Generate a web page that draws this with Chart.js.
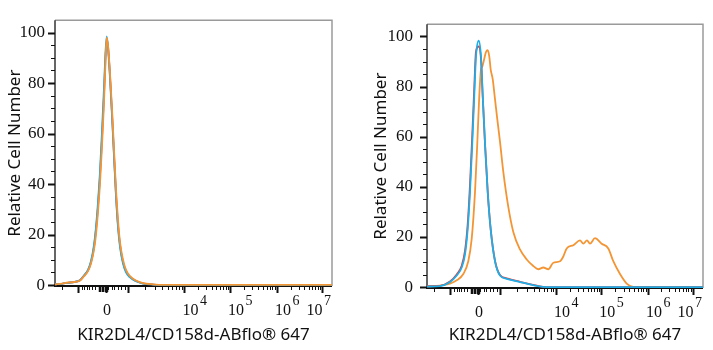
<!DOCTYPE html>
<html>
<head>
<meta charset="utf-8">
<script src="https://cdn.jsdelivr.net/npm/chart.js@4.4.0/dist/chart.umd.min.js"></script>
<style>
  html, body { margin: 0; padding: 0; background: #fff; }
  #leftBox { position: absolute; left: 0; top: 0; }
  #rightBox { position: absolute; left: 360px; top: 0; }
</style>
</head>
<body>
<div id="leftBox"><canvas id="leftChart" width="360" height="350"></canvas></div>
<div id="rightBox"><canvas id="rightChart" width="353" height="350"></canvas></div>
<script>
// x values are display units of the biexponential axis (0 at zero, about one unit per decade)
const yTickValues = [0, 20, 40, 60, 80, 100];
const xLabelTicks = [0, 1.67, 2.64, 3.64, 4.6];
const xLabelExp = ['', '4', '5', '6', '7'];
const xMajorTicks = [-0.59, 0, 0.475, 1.67, 2.64, 3.64, 4.6];
const xNearZeroTicks = [-0.94, -0.52, -0.46, -0.41, -0.355, -0.30, -0.235, 0.05, 0.12, 0.18, 0.26, 0.33, 0.40];
const xZeroCluster = [-0.15, -0.12, -0.09, -0.055, -0.025, 0.02];

// left panel
const leftX = [-1.085, -0.936, -0.809, -0.681, -0.553, -0.468, -0.383, -0.319, -0.255, -0.213, -0.170, -0.128, -0.085, -0.043, -0.011, 0.015, 0.043, 0.085, 0.128, 0.170, 0.213, 0.255, 0.298, 0.362, 0.426, 0.511, 0.638, 0.787, 1.0, 1.255, 4.81];
const leftOrange = [0.3, 0.6, 1.0, 1.2, 1.8, 3.5, 5.5, 8.5, 14, 20, 29, 40, 55, 72, 88, 98, 95, 84, 70, 54, 38, 26, 17, 10, 6, 3.5, 1.8, 0.8, 0.3, 0.1, 0.1];
const leftCyan = [0.3, 0.5, 0.9, 1.2, 1.9, 3.8, 6, 9.5, 16, 23, 33, 45, 61, 78, 92, 98.5, 94, 82, 67, 51, 35, 23, 15, 8.5, 5, 3, 1.5, 0.6, 0.2, 0, 0];
const leftRed = [0.3, 0.5, 0.9, 1.2, 1.9, 3.7, 5.8, 9, 15, 22, 31, 43, 58, 75, 90, 97, 94.5, 83, 68, 52, 36, 24, 16, 9, 5.5, 3.2, 1.6, 0.7, 0.2, 0, 0];

// right panel
const rightX = [-1.092, -0.814, -0.600, -0.456, -0.349, -0.278, -0.221, -0.171, -0.122, -0.079, -0.043, 0.015, 0.064, 0.101, 0.150, 0.208, 0.272, 0.364, 0.471, 0.615, 0.899, 1.178, 1.392, 1.542, 4.818];
const rightCyan = [0.2, 0.4, 2, 4.6, 7.8, 13, 23, 38, 57.5, 76.6, 92, 98.3, 92, 76.6, 57.5, 38, 23, 10.3, 4.6, 3.3, 2, 0.8, 0.1, 0, 0];
const rightRed = [0.3, 0.5, 2.2, 5, 8.5, 14.5, 25, 41, 61, 80, 94, 96, 91, 76, 57, 38, 23, 10.5, 4.8, 3.5, 2.1, 0.9, 0.1, 0, 0];
const rightOrangeX = [-1.092, -0.814, -0.600, -0.456, -0.315, -0.208, -0.135, -0.064, -0.015, 0.028, 0.064, 0.092, 0.128, 0.171, 0.208, 0.242, 0.272, 0.315, 0.364, 0.413, 0.471, 0.542, 0.649, 0.756, 0.899, 1.043, 1.184, 1.291, 1.398, 1.505, 1.612, 1.756, 1.827, 1.899, 2.041, 2.184, 2.255, 2.334, 2.398, 2.505, 2.649, 2.790, 2.897, 3.041, 3.184, 3.326, 4.818];
const rightOrange = [0.3, 0.6, 1.4, 2.7, 5.2, 10.3, 19.2, 38, 57.5, 76.6, 86.8, 88, 90.6, 93.8, 94.5, 92, 86.8, 83, 75, 67, 58, 46, 32, 22, 15, 11, 8.4, 7.1, 7.8, 7.1, 9.7, 10.3, 12.2, 15.4, 16.7, 18.6, 17.3, 18.6, 17.3, 19.5, 17.3, 15.4, 10.3, 5.2, 1.4, 0.1, 0.1];

const xMinorTicks = xNearZeroTicks.slice();
for (let i = 2; i < xMajorTicks.length - 1; i++) {
  const a = xMajorTicks[i], b = xMajorTicks[i + 1];
  for (let m = 2; m <= 9; m++) xMinorTicks.push(a + Math.log10(m) * (b - a));
}

const serif = '"Liberation Serif", "Times New Roman", serif';
const sans = '"Noto Sans", "Open Sans", sans-serif';

// frame, tick marks and the 10^n labels of the flow axes
const flowAxes = {
  id: 'flowAxes',
  beforeDatasetsDraw(chart) {
    const { ctx, chartArea: a } = chart;
    ctx.save();
    ctx.strokeStyle = '#9a9a9a';
    ctx.lineWidth = 1.5;
    ctx.beginPath();
    ctx.moveTo(a.left, a.top);
    ctx.lineTo(a.right, a.top);
    ctx.lineTo(a.right, a.bottom);
    ctx.stroke();
    ctx.strokeStyle = '#333';
    ctx.beginPath();
    ctx.moveTo(a.left, a.top);
    ctx.lineTo(a.left, a.bottom);
    ctx.stroke();
    ctx.strokeStyle = '#111';
    ctx.lineWidth = 2;
    ctx.beginPath();
    ctx.moveTo(a.left - 1, a.bottom);
    ctx.lineTo(a.right, a.bottom);
    ctx.stroke();
    ctx.restore();
  },
  afterDraw(chart) {
    const { ctx, chartArea: a, scales: { x, y } } = chart;
    ctx.save();
    ctx.strokeStyle = '#111';
    // y ticks
    for (let v = 0; v <= 100; v += 5) {
      const py = Math.round(y.getPixelForValue(v)) + 0.5;
      const major = v % 20 === 0;
      ctx.lineWidth = major ? 2 : 1;
      ctx.beginPath();
      ctx.moveTo(a.left - (major ? 7 : 4), py);
      ctx.lineTo(a.left, py);
      ctx.stroke();
    }
    // x ticks
    const xt = (v, len, w) => {
      const px = Math.round(x.getPixelForValue(v)) + 0.5;
      ctx.lineWidth = w;
      ctx.beginPath();
      ctx.moveTo(px, a.bottom);
      ctx.lineTo(px, a.bottom + len);
      ctx.stroke();
    };
    xMinorTicks.forEach(v => xt(v, 4, 1));
    xZeroCluster.forEach(v => xt(v, 6, 1.5));
    xMajorTicks.forEach(v => xt(v, 7, 2));
    // x labels
    ctx.fillStyle = '#111';
    ctx.textBaseline = 'alphabetic';
    xLabelTicks.forEach((v, i) => {
      const px = x.getPixelForValue(v);
      const base = a.bottom + 29;
      ctx.font = '16px ' + serif;
      if (!xLabelExp[i]) {
        ctx.textAlign = 'center';
        ctx.fillText('0', px + 1, base);
        return;
      }
      ctx.textAlign = 'left';
      const wBase = ctx.measureText('10').width;
      ctx.font = '14px ' + serif;
      const wExp = ctx.measureText(xLabelExp[i]).width;
      const start = Math.min(px - 2, a.right - wBase - wExp - 2.5);
      ctx.font = '16px ' + serif;
      ctx.fillText('10', start, base);
      ctx.font = '14px ' + serif;
      ctx.fillText(xLabelExp[i], start + wBase + 1.5, base - 10);
    });
    ctx.restore();
  }
};

const line = (label, xs, ys, color) => ({
  label,
  data: xs.map((v, i) => ({ x: v, y: ys[i] })),
  borderColor: color,
  backgroundColor: color,
  borderWidth: 1.8,
  pointRadius: 0,
  fill: false,
  cubicInterpolationMode: 'monotone'
});

function makeChart(id, datasets, opt) {
  return new Chart(document.getElementById(id), {
    type: 'line',
    data: { datasets },
    plugins: [flowAxes],
    options: {
      responsive: false,
      animation: false,
      layout: { padding: opt.padding },
      plugins: { legend: { display: false }, tooltip: { enabled: false } },
      scales: {
        x: {
          type: 'linear',
          min: opt.xMin,
          max: opt.xMax,
          grid: { display: false, drawTicks: false },
          border: { display: false },
          ticks: { display: false },
          afterFit: s => { s.height = opt.xHeight; },
          title: {
            display: true,
            text: 'KIR2DL4/CD158d-ABflo® 647',
            color: '#111',
            font: { family: sans, size: 17 },
            padding: { top: 0, bottom: 5 }
          }
        },
        y: {
          min: -0.38,
          max: 104.9,
          grid: { display: false, drawTicks: false },
          border: { display: false },
          afterBuildTicks: s => { s.ticks = yTickValues.map(v => ({ value: v })); },
          afterFit: s => { s.width = opt.yWidth; },
          ticks: {
            padding: opt.yTickPad,
            color: '#111',
            font: { family: serif, size: 17 }
          },
          title: {
            display: true,
            text: 'Relative Cell Number',
            color: '#111',
            font: { family: sans, size: 17 },
            padding: { top: opt.yTitlePad, bottom: 0 }
          }
        }
      }
    }
  });
}

makeChart('leftChart', [
  line('Orange', leftX, leftOrange, '#f39534'),
  line('Cyan', leftX, leftCyan, '#1eaee8'),
  line('Red', leftX, leftRed, '#e33b3b')
], { padding: { top: 9, right: 28, left: 0, bottom: 0 }, xMin: -1.085, xMax: 4.81, xHeight: 64, yWidth: 55, yTickPad: 10, yTitlePad: 5 });

makeChart('rightChart', [
  line('Cyan', rightX, rightCyan, '#1eaee8'),
  line('Red', rightX, rightRed, '#e33b3b'),
  line('Orange', rightOrangeX, rightOrange, '#f39534')
], { padding: { top: 13, right: 10, left: 0, bottom: 0 }, xMin: -1.092, xMax: 4.818, xHeight: 62, yWidth: 67, yTickPad: 14, yTitlePad: 11 });
</script>
</body>
</html>
